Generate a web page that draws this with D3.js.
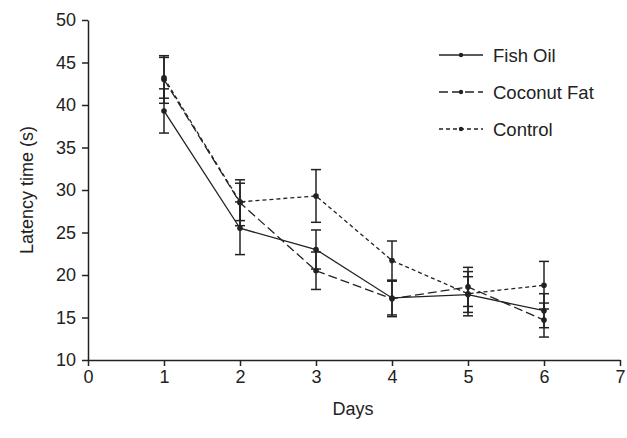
<!DOCTYPE html>
<html>
<head>
<meta charset="utf-8">
<script src="https://cdn.jsdelivr.net/npm/d3@7"></script>
<style>
  body { margin: 0; background: #fff; }
  svg text { font-family: "Liberation Sans", Arial, sans-serif; fill: #222; }
</style>
</head>
<body>
<div id="chart"></div>
<script>
const days = [1, 2, 3, 4, 5, 6];
const seriesNames = ['Fish Oil', 'Coconut Fat', 'Control'];
const fishOil = [39.3, 25.5, 23.0, 17.3, 17.7, 15.8];
const fishOilErr = [2.6, 3.1, 2.3, 2.0, 2.1, 2.0];
const coconutFat = [43.0, 28.5, 20.5, 17.2, 18.6, 14.7];
const coconutFatErr = [2.8, 2.7, 2.2, 2.1, 2.3, 2.0];
const control = [43.2, 28.6, 29.3, 21.7, 17.8, 18.8];
const controlErr = [2.4, 2.2, 3.1, 2.3, 2.6, 2.8];
const xTicks = [0, 1, 2, 3, 4, 5, 6, 7];
const yTicks = [10, 15, 20, 25, 30, 35, 40, 45, 50];

const width = 627, height = 438;
const margin = { top: 20, right: 7, bottom: 78, left: 88 };
const ink = '#222';

const svg = d3.select('#chart').append('svg')
  .attr('width', width)
  .attr('height', height);

const x_sc = d3.scaleLinear().domain([0, 7]).range([margin.left, width - margin.right]);
const y_sc = d3.scaleLinear().domain([10, 50]).range([height - margin.bottom, margin.top]);

// axes
const xAxis = svg.append('g')
  .attr('transform', `translate(0,${height - margin.bottom})`)
  .call(d3.axisBottom(x_sc).tickValues(xTicks).tickFormat(d3.format('d'))
    .tickSize(6).tickSizeOuter(0).tickPadding(4));
const yAxis = svg.append('g')
  .attr('transform', `translate(${margin.left},0)`)
  .call(d3.axisLeft(y_sc).tickValues(yTicks).tickFormat(d3.format('d'))
    .tickSize(6).tickSizeOuter(0).tickPadding(6));

[xAxis, yAxis].forEach(a => {
  a.selectAll('path, line').attr('stroke', ink).attr('stroke-width', 1.5);
  a.selectAll('text').style('font-size', '18px').attr('fill', ink);
});

svg.append('text')
  .attr('x', (margin.left + width - margin.right) / 2 - 1)
  .attr('y', 415)
  .attr('text-anchor', 'middle')
  .style('font-size', '18px')
  .text('Days');

svg.append('text')
  .attr('transform', `translate(33,${(margin.top + height - margin.bottom) / 2}) rotate(-90)`)
  .attr('text-anchor', 'middle')
  .style('font-size', '18px')
  .text('Latency time (s)');

const series = [
  { name: seriesNames[0], values: fishOil, err: fishOilErr, dash: null },
  { name: seriesNames[1], values: coconutFat, err: coconutFatErr, dash: '9,4' },
  { name: seriesNames[2], values: control, err: controlErr, dash: '4,3' }
];

const line = d3.line()
  .x((d, i) => x_sc(days[i]))
  .y(d => y_sc(d));

const capW = 5;

series.forEach(s => {
  const g = svg.append('g');

  // error bars
  const eb = g.selectAll('.err')
    .data(s.values.map((v, i) => ({ day: days[i], v, e: s.err[i] })))
    .enter().append('g');
  eb.append('line')
    .attr('x1', d => x_sc(d.day)).attr('x2', d => x_sc(d.day))
    .attr('y1', d => y_sc(d.v - d.e)).attr('y2', d => y_sc(d.v + d.e))
    .attr('stroke', ink).attr('stroke-width', 1.5);
  eb.append('line')
    .attr('x1', d => x_sc(d.day) - capW).attr('x2', d => x_sc(d.day) + capW)
    .attr('y1', d => y_sc(d.v + d.e)).attr('y2', d => y_sc(d.v + d.e))
    .attr('stroke', ink).attr('stroke-width', 1.5);
  eb.append('line')
    .attr('x1', d => x_sc(d.day) - capW).attr('x2', d => x_sc(d.day) + capW)
    .attr('y1', d => y_sc(d.v - d.e)).attr('y2', d => y_sc(d.v - d.e))
    .attr('stroke', ink).attr('stroke-width', 1.5);

  g.append('path')
    .datum(s.values)
    .attr('d', line)
    .attr('fill', 'none')
    .attr('stroke', ink)
    .attr('stroke-width', 1.3)
    .attr('stroke-dasharray', s.dash);

  g.selectAll('.pt')
    .data(s.values)
    .enter().append('circle')
    .attr('cx', (d, i) => x_sc(days[i]))
    .attr('cy', d => y_sc(d))
    .attr('r', 2.8)
    .attr('fill', ink);
});

// legend
const legend = svg.append('g');
series.forEach((s, i) => {
  const ly = 55 + i * 37;
  legend.append('line')
    .attr('x1', 439).attr('x2', 483)
    .attr('y1', ly).attr('y2', ly)
    .attr('stroke', ink).attr('stroke-width', 1.3)
    .attr('stroke-dasharray', s.dash);
  legend.append('circle')
    .attr('cx', 461).attr('cy', ly).attr('r', 2.2).attr('fill', ink);
  legend.append('text')
    .attr('x', 493).attr('y', ly)
    .attr('dy', '0.36em')
    .style('font-size', '18.5px')
    .text(s.name);
});
</script>
</body>
</html>
